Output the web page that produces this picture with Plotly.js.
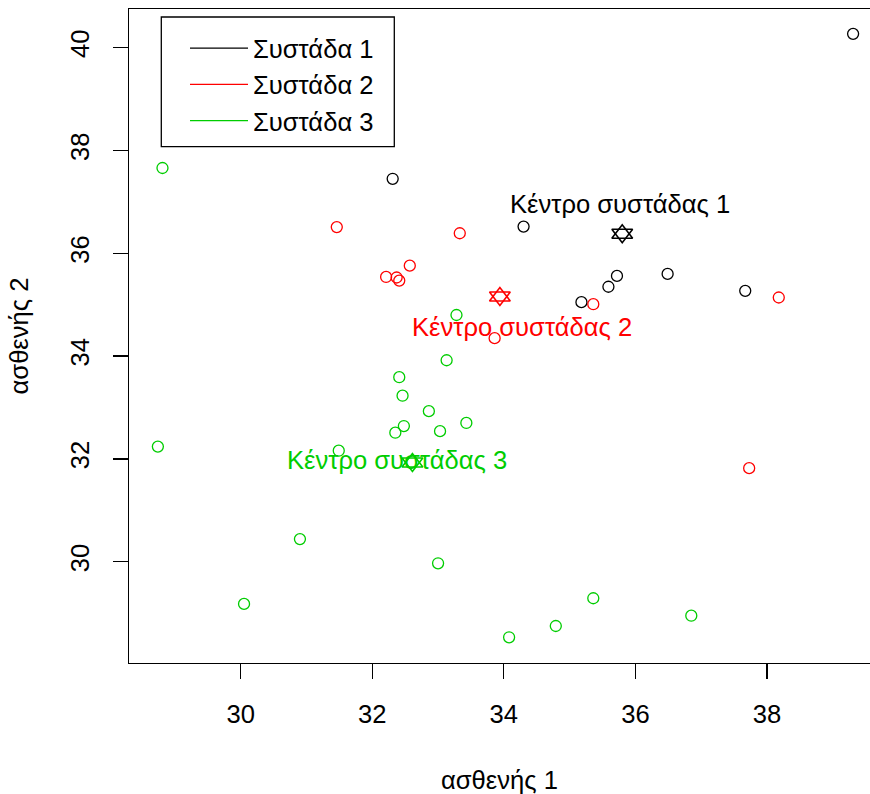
<!DOCTYPE html>
<html>
<head>
<meta charset="utf-8">
<script src="https://cdn.plot.ly/plotly-3.0.1.min.js"></script>
<style>
  html, body { margin: 0; padding: 0; background: #fff; }
  #chart { width: 870px; height: 794px; }
</style>
</head>
<body>
<div id="chart"></div>
<script>
// Cluster members (ασθενής 1, ασθενής 2)
const c1x = [32.31, 34.30, 35.18, 35.59, 35.72, 36.49, 37.67, 39.31];
const c1y = [37.45, 36.52, 35.05, 35.35, 35.56, 35.60, 35.27, 40.27];

const c2x = [31.46, 32.21, 32.37, 32.41, 32.57, 33.33, 33.86, 35.36, 37.73, 38.18];
const c2y = [36.51, 35.54, 35.53, 35.47, 35.76, 36.39, 34.35, 35.01, 31.82, 35.14];

const c3x = [28.81, 28.74, 31.49, 30.90, 30.05, 33.28, 33.13, 32.41, 32.46, 32.86,
             33.43, 32.48, 32.35, 33.03, 33.00, 35.36, 34.79, 34.08, 36.85];
const c3y = [37.66, 32.24, 32.16, 30.44, 29.18, 34.80, 33.92, 33.59, 33.23, 32.93,
             32.70, 32.64, 32.51, 32.54, 29.97, 29.29, 28.75, 28.53, 28.95];

// Cluster centres
const centreX = [35.80, 33.94, 32.61];
const centreY = [36.38, 35.16, 31.93];

// Centre labels and where they are written
const centreLabels = ["Κέντρο συστάδας 1", "Κέντρο συστάδας 2", "Κέντρο συστάδας 3"];
const labelX = [35.76, 34.27, 32.38];
const labelY = [36.96, 34.57, 31.98];

const clusterNames = ["Συστάδα 1", "Συστάδα 2", "Συστάδα 3"];
const clusterColors = ["#000000", "#ff0000", "#00cd00"];

const xTicks = [30, 32, 34, 36, 38];
const yTicks = [30, 32, 34, 36, 38, 40];

const FONT = "Liberation Sans, Arial, sans-serif";
const FS = 25.6;

const memberX = [c1x, c2x, c3x];
const memberY = [c1y, c2y, c3y];

const traces = [];
for (let i = 0; i < 3; i++) {
  traces.push({
    type: "scatter", mode: "markers",
    x: memberX[i], y: memberY[i],
    showlegend: false, hoverinfo: "x+y",
    marker: { symbol: "circle-open", size: 11, color: clusterColors[i],
              line: { width: 1.3, color: clusterColors[i] } }
  });
}
// Centres: two overlaid open triangles make a star of David
["triangle-up-open", "triangle-down-open"].forEach(sym => {
  for (let i = 0; i < 3; i++) {
    traces.push({
      type: "scatter", mode: "markers",
      x: [centreX[i]], y: [centreY[i]],
      showlegend: false, hoverinfo: "x+y",
      marker: { symbol: sym, size: 18, color: clusterColors[i],
                line: { width: 1.6, color: clusterColors[i] } }
    });
  }
});
// Legend entries (line keys only)
for (let i = 0; i < 3; i++) {
  traces.push({
    type: "scatter", mode: "lines",
    x: [null], y: [null],
    name: clusterNames[i],
    line: { color: clusterColors[i], width: 1.3 }
  });
}

const annotations = centreLabels.map((t, i) => ({
  x: labelX[i], y: labelY[i], xref: "x", yref: "y",
  text: t, showarrow: false, xanchor: "center", yanchor: "middle",
  font: { family: FONT, size: FS, color: clusterColors[i] }
}));

// Legend frame
const shapes = [{
  type: "rect", xref: "paper", yref: "paper", layer: "below",
  x0: (161.3 - 129) / 741, x1: (394.3 - 129) / 741,
  y0: 1 - (146.7 - 9) / 654, y1: 1 - (17 - 9) / 654,
  line: { color: "#000", width: 1.3 }, fillcolor: "#ffffff"
}];

const layout = {
  width: 870, height: 794,
  margin: { l: 129, r: 0, t: 9, b: 131, pad: 0 },
  paper_bgcolor: "#ffffff", plot_bgcolor: "#ffffff",
  font: { family: FONT, size: FS, color: "#000" },
  showlegend: true,
  legend: {
    x: (185 - 129) / 741, y: 1 - (25 - 9) / 654, xanchor: "left", yanchor: "top",
    bgcolor: "rgba(0,0,0,0)", borderwidth: 0,
    font: { family: FONT, size: FS, color: "#000" },
    itemwidth: 58, tracegroupgap: 0
  },
  xaxis: {
    range: [28.301, 39.567], autorange: false,
    tickvals: xTicks, ticktext: xTicks.map(String),
    ticks: "outside", ticklen: 15, tickwidth: 1.3, tickcolor: "#000",
    showline: true, mirror: true, linecolor: "#000", linewidth: 1.3,
    showgrid: false, zeroline: false,
    tickfont: { family: FONT, size: FS, color: "#000" },
    ticklabelstandoff: 13,
    title: { text: "ασθενής 1", font: { family: FONT, size: FS, color: "#000" }, standoff: 46 }
  },
  yaxis: {
    range: [28.03, 40.753], autorange: false,
    tickvals: yTicks, ticktext: yTicks.map(String),
    ticks: "outside", ticklen: 15, tickwidth: 1.3, tickcolor: "#000",
    tickangle: -90,
    showline: true, mirror: false, linecolor: "#000", linewidth: 1.3,
    showgrid: false, zeroline: false,
    tickfont: { family: FONT, size: FS, color: "#000" },
    ticklabelstandoff: 13,
    title: { text: "ασθενής 2", font: { family: FONT, size: FS, color: "#000" }, standoff: 30 }
  },
  shapes: shapes,
  annotations: annotations
};

Plotly.newPlot("chart", traces, layout, { staticPlot: true, displayModeBar: false });
</script>
</body>
</html>
